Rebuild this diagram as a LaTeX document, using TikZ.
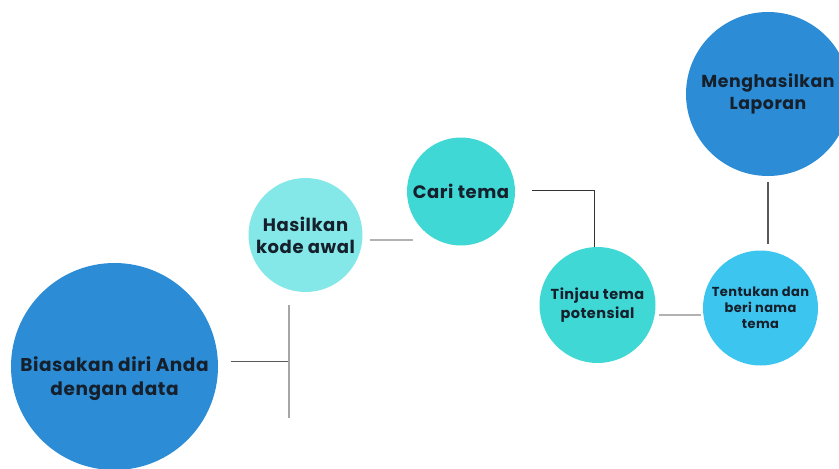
\documentclass[tikz,border=0pt]{standalone}
\usepackage{fontspec}
\setmainfont{Poppins}[BoldFont={Poppins Bold}, LetterSpace=3]
\usepackage{tikz}
\usetikzlibrary{positioning}
\usepackage{xcolor}
\definecolor{deepblue}{HTML}{2C8DD6}
\definecolor{paleteal}{HTML}{84E8E8}
\definecolor{teal}{HTML}{40D8D5}
\definecolor{skyblue}{HTML}{3CC5EE}
\definecolor{inkdark}{HTML}{15202C}

\begin{document}
\begin{tikzpicture}[
    x=1pt, y=-1pt,
    on grid,
    bubble/.style={circle, inner sep=0pt, text=inkdark, align=center, font=\bfseries},
    link/.style={line width=1.1pt, draw=#1},
    link/.default={black!65}
]
  \useasboundingbox (0,0) rectangle (839,469);

  % Circles, from bottom left to top right
  \node[bubble, fill=deepblue, minimum size=207pt] (fam) at (114.5,366.5) {};
  \node[bubble, font=\bfseries\fontsize{18.5}{24}\selectfont] (famtxt) at ([yshift=-12pt]fam.center)
    {Biasakan diri Anda\\dengan data};
  \node[bubble, fill=paleteal, minimum size=114pt, font=\bfseries\fontsize{18}{22}\selectfont]
    (code) [above right=131.5pt and 191pt of fam] {Hasilkan\\kode awal};
  \node[bubble, fill=teal, minimum size=108pt, font=\bfseries\fontsize{18}{22}\selectfont]
    (theme) [above right=43.5pt and 155.5pt of code] {Cari tema};
  \node[bubble, fill=teal, minimum size=116pt, font=\bfseries\fontsize{14.5}{19}\selectfont]
    (review) [below right=113.5pt and 136.5pt of theme] {Tinjau tema\\potensial};
  \node[bubble, fill=skyblue, minimum size=115pt, font=\bfseries\fontsize{13}{16}\selectfont]
    (define) [below right=3pt and 163pt of review] {Tentukan dan\\beri nama\\tema};
  \node[bubble, fill=deepblue, minimum size=164pt, font=\bfseries\fontsize{17.3}{22}\selectfont]
    (report) [above right=214pt and 7.5pt of define] {Menghasilkan\\Laporan};

  % Connectors
  \coordinate (jtop) at (289,305);
  \coordinate (jbot) at (289,418);
  \draw[link] ([xshift=13pt,yshift=5pt]fam.east) -- ([yshift=5pt]fam.east -| jtop);
  \draw[link=black!35] (jtop) -- (jbot);
  \draw[link=black!30] ([xshift=7pt,yshift=-5pt]code.east) -- ([xshift=50pt,yshift=-5pt]code.east);
  \draw[link=black!80] ([xshift=17pt,yshift=1pt]theme.east) -| ([xshift=-3pt]review.north);
  \draw[link=black!30] ([xshift=3pt,yshift=-10pt]review.east) -- ([xshift=45pt,yshift=-10pt]review.east);
  \draw[link] ([yshift=-6pt]report.south) -- ([yshift=6pt]define.north -| report.south);
\end{tikzpicture}
\end{document}
